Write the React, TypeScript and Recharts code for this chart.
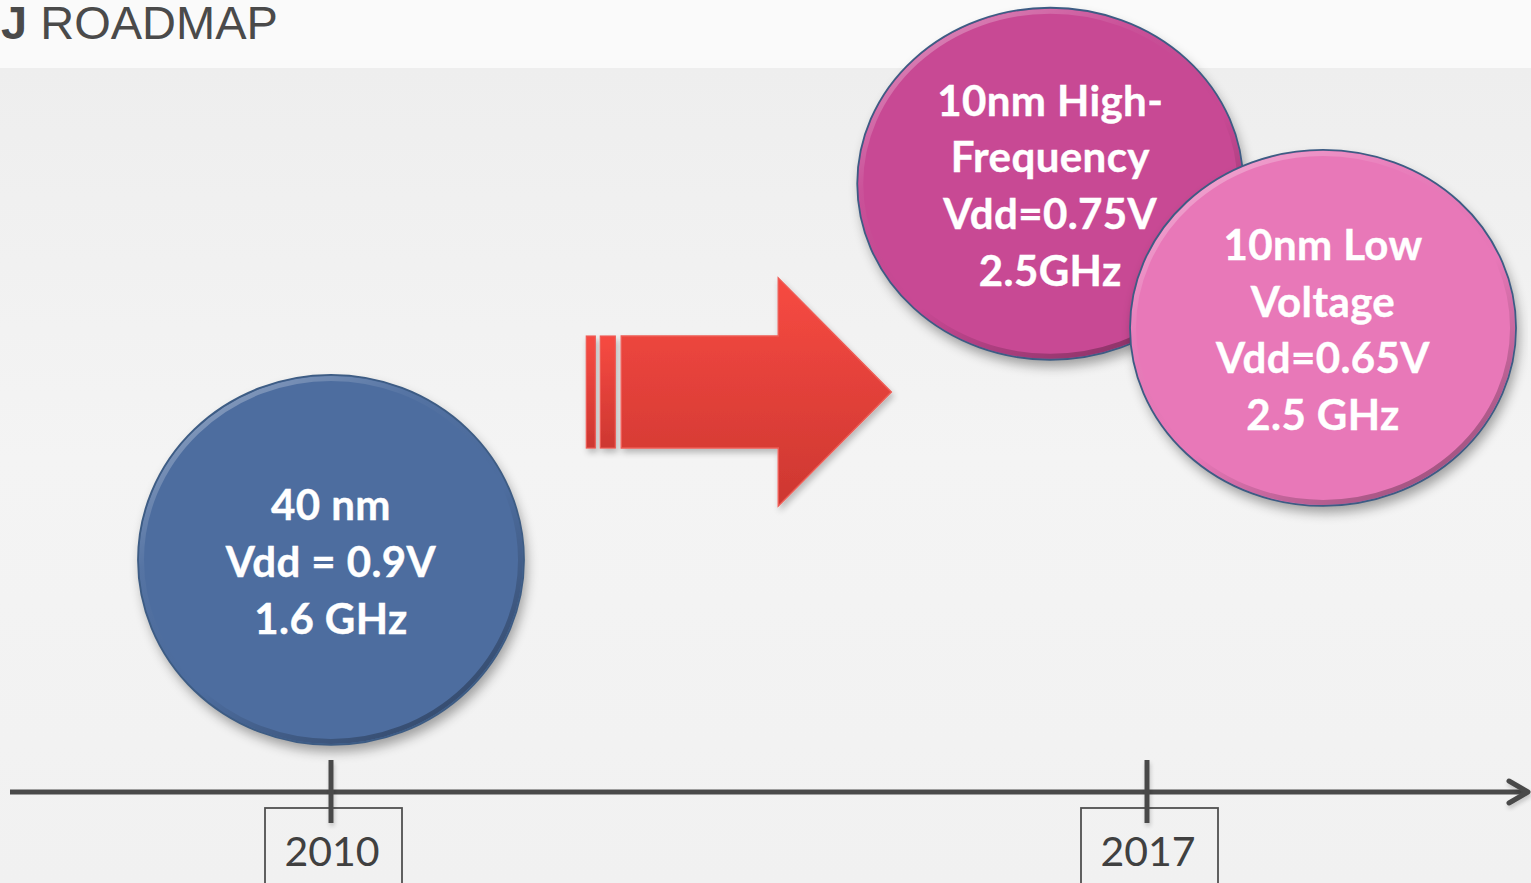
import { ScatterChart, Scatter, XAxis, YAxis, ReferenceDot } from 'recharts'

// process nodes on the roadmap
const nodeNames = ['40nm', '10nm-HF', '10nm-LV']
const nodeYears = [2010, 2016.17, 2018.51]
const nodeLevels = [29.3, 76.8, 58.6]
const nodeLines = [
  ['40 nm', 'Vdd = 0.9V', '1.6 GHz'],
  ['10nm High-', 'Frequency', 'Vdd=0.75V', '2.5GHz'],
  ['10nm Low', 'Voltage', 'Vdd=0.65V', '2.5 GHz'],
]
const tickYears = [2010, 2017]
const arrowYear = 2012.19
const arrowLevel = 50.5

const W = 1531
const H = 883
const AXIS_H = 91
const AXIS_Y = H - AXIS_H
const X_DOMAIN: [number, number] = [2007.2463, 2020.2684]

const nodeColors = ['#4e6d9f', '#c84a94', '#e878b8']
const nodeRadii = [
  [193, 185],
  [193, 176],
  [193, 178],
]

const data = nodeNames.map((name, i) => ({ name, year: nodeYears[i], level: nodeLevels[i], i }))

const FONT = 'Lato, "Open Sans", sans-serif'

function Bubble(props: any) {
  const { cx, cy, payload } = props
  const i = payload.i
  const [rx, ry] = nodeRadii[i]
  const lines = nodeLines[i]
  const step = 56.7
  return (
    <g>
      <ellipse cx={cx} cy={cy} rx={rx} ry={ry} fill={nodeColors[i]} filter="url(#bubbleShadow)" />
      <ellipse cx={cx} cy={cy} rx={rx - 3.5} ry={ry - 3.5} fill="none" stroke="url(#rim)" strokeWidth={5} />
      <ellipse cx={cx} cy={cy} rx={rx} ry={ry} fill="none" stroke="#3d5c84" strokeWidth={1.8} />
      <text
        textAnchor="middle"
        fill="#ffffff"
        stroke="#ffffff"
        strokeWidth={0.4}
        letterSpacing={0.4}
        fontFamily={FONT}
        fontWeight={700}
        fontSize={42}
      >
        {lines.map((t, k) => (
          <tspan key={k} x={cx} y={cy + (k - (lines.length - 1) / 2) * step + 17}>
            {t}
          </tspan>
        ))}
      </text>
    </g>
  )
}

function BigArrow(props: any) {
  const { cx, cy } = props
  const x = cx
  const body = `M${x + 35},${cy - 56} L${x + 192},${cy - 56} L${x + 192},${cy - 114} L${x + 305},${cy} L${x + 192},${cy + 114} L${x + 192},${cy + 56} L${x + 35},${cy + 56} Z`
  return (
    <g filter="url(#arrowShadow)">
      <rect x={x} y={cy - 56} width={9} height={112} fill="url(#redGrad)" stroke="#ee5b54" strokeWidth={1.2} />
      <rect x={x + 14} y={cy - 56} width={15} height={112} fill="url(#redGrad)" stroke="#ee5b54" strokeWidth={1.2} />
      <path d={body} fill="url(#redGrad)" stroke="#ee5b54" strokeWidth={1.5} />
    </g>
  )
}

function Chevron(props: any) {
  const { cx, cy } = props
  return (
    <path
      d={`M${cx - 19},${cy - 11} L${cx},${cy} L${cx - 19},${cy + 11}`}
      fill="none"
      stroke="#4a4a4a"
      strokeWidth={5}
      strokeLinecap="round"
      strokeLinejoin="round"
      filter="url(#lineShadow)"
    />
  )
}

function YearTick(props: any) {
  const { x, payload } = props
  const y = AXIS_Y
  return (
    <g>
      <rect x={x - 66} y={y + 16} width={137} height={100} fill="none" stroke="#505050" strokeWidth={1.8} />
      <line x1={x} x2={x} y1={y - 32} y2={y + 31} stroke="#4a4a4a" strokeWidth={5} filter="url(#lineShadow)" />
      <text x={x + 1} y={y + 74} textAnchor="middle" fill="#404040" fontFamily={FONT} fontSize={41}>
        {payload.value}
      </text>
    </g>
  )
}

export default function App() {
  return (
    <div
      style={{
        position: 'absolute',
        left: 0,
        top: 0,
        width: W,
        height: H,
        overflow: 'hidden',
        background:
          'linear-gradient(to bottom, #fafafa 0px, #fafafa 68px, #eeeeee 68px, #f4f4f4 460px, #f1f1f1 883px)',
      }}
    >
      <div
        style={{
          position: 'absolute',
          left: 1,
          top: -1,
          fontFamily: '"Liberation Sans", Arial, sans-serif',
          fontSize: 47,
          lineHeight: '47px',
          color: '#4a4a4a',
          whiteSpace: 'pre',
        }}
      >
        <b>J</b> ROADMAP
      </div>
      <ScatterChart width={W} height={H} margin={{ top: 0, right: 3, bottom: 0, left: 10 }} style={{ position: 'absolute', left: 0, top: 0 }}>
        <defs>
          <filter id="bubbleShadow" x="-20%" y="-20%" width="140%" height="145%">
            <feGaussianBlur in="SourceAlpha" stdDeviation={6} />
            <feOffset dx={3} dy={7} result="b" />
            <feComponentTransfer>
              <feFuncA type="linear" slope={0.35} />
            </feComponentTransfer>
            <feMerge>
              <feMergeNode />
              <feMergeNode in="SourceGraphic" />
            </feMerge>
          </filter>
          <filter id="arrowShadow" x="-10%" y="-10%" width="125%" height="130%">
            <feGaussianBlur in="SourceAlpha" stdDeviation={3} />
            <feOffset dx={2} dy={4} />
            <feComponentTransfer>
              <feFuncA type="linear" slope={0.25} />
            </feComponentTransfer>
            <feMerge>
              <feMergeNode />
              <feMergeNode in="SourceGraphic" />
            </feMerge>
          </filter>
          <filter id="lineShadow" filterUnits="userSpaceOnUse" x={0} y={0} width={W} height={H}>
            <feGaussianBlur in="SourceAlpha" stdDeviation={2} />
            <feOffset dx={1} dy={3} />
            <feComponentTransfer>
              <feFuncA type="linear" slope={0.2} />
            </feComponentTransfer>
            <feMerge>
              <feMergeNode />
              <feMergeNode in="SourceGraphic" />
            </feMerge>
          </filter>
          <linearGradient id="rim" x1="0" y1="0" x2="0.7" y2="1">
            <stop offset="0%" stopColor="#ffffff" stopOpacity={0.45} />
            <stop offset="35%" stopColor="#ffffff" stopOpacity={0.05} />
            <stop offset="65%" stopColor="#000000" stopOpacity={0} />
            <stop offset="100%" stopColor="#000000" stopOpacity={0.3} />
          </linearGradient>
          <linearGradient id="redGrad" x1="0" y1="0" x2="0" y2="1">
            <stop offset="0%" stopColor="#f74a42" />
            <stop offset="100%" stopColor="#cd3731" />
          </linearGradient>
        </defs>
        <XAxis
          type="number"
          dataKey="year"
          domain={X_DOMAIN}
          allowDataOverflow
          ticks={tickYears}
          interval={0}
          height={AXIS_H}
          axisLine={{ stroke: '#4a4a4a', strokeWidth: 5 }}
          tickLine={false}
          tick={<YearTick />}
        />
        <YAxis type="number" dataKey="level" domain={[0, 100]} hide />
        <ReferenceDot x={arrowYear} y={arrowLevel} ifOverflow="visible" shape={<BigArrow />} />
        <Scatter data={data} shape={<Bubble />} isAnimationActive={false} />
        <ReferenceDot x={X_DOMAIN[1]} y={0} ifOverflow="visible" shape={<Chevron />} />
      </ScatterChart>
    </div>
  )
}
